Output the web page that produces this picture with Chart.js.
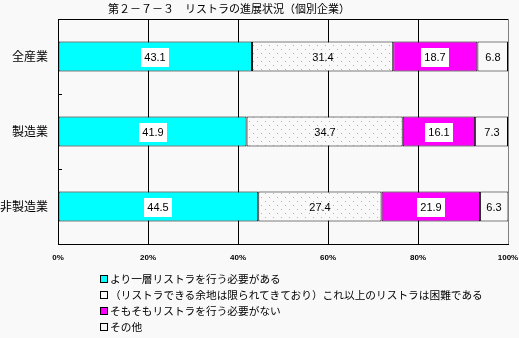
<!DOCTYPE html>
<html>
<head>
<meta charset="utf-8">
<script src="https://cdn.jsdelivr.net/npm/chart.js@4"></script>
<style>
  body { margin: 0; background: #f9f9f9; }
  #wrap { position: relative; width: 519px; height: 338px; overflow: hidden; }
  #chart { position: absolute; left: 0; top: 0; }
  #title {
    position: absolute; left: 108px; top: 0px;
    font: 11px "Noto Sans CJK JP", sans-serif; color: #000; white-space: nowrap;
  }
  #legend {
    position: absolute; left: 100px; top: 271px;
    font: 10.7px "Noto Sans CJK JP", sans-serif; color: #000;
    list-style: none; margin: 0; padding: 0;
  }
  #legend li { height: 16px; line-height: 16px; white-space: nowrap; }
  #legend span.box {
    display: inline-block; width: 6px; height: 6px; border: 1px solid #000;
    margin-right: 2px; vertical-align: 0px;
  }
</style>
</head>
<body>
<div id="wrap">
  <canvas id="chart" width="519" height="338"></canvas>
  <div id="title">第２－７－３　リストラの進展状況（個別企業）</div>
  <ul id="legend"></ul>
</div>
<script>
const categories = ["全産業", "製造業", "非製造業"]
const seriesNames = [
  "より一層リストラを行う必要がある",
  "（リストラできる余地は限られてきており）これ以上のリストラは困難である",
  "そもそもリストラを行う必要がない",
  "その他"
]
const moreRestructuring = [43.1, 41.9, 44.5]
const difficult = [31.4, 34.7, 27.4]
const notNeeded = [18.7, 16.1, 21.9]
const other = [6.8, 7.3, 6.3]
const xTickLabels = ["0%", "20%", "40%", "60%", "80%", "100%"]

const BG = "#f9f9f9"

// dotted fill for the second series
function dotPattern() {
  const c = document.createElement("canvas")
  c.width = 8
  c.height = 8
  const g = c.getContext("2d")
  g.fillStyle = BG
  g.fillRect(0, 0, 8, 8)
  g.fillStyle = "#e0b424"
  g.fillRect(1, 1, 1, 1)
  g.fillRect(5, 5, 1, 1)
  return document.getElementById("chart").getContext("2d").createPattern(c, "repeat")
}

const fills = ["#00ffff", dotPattern(), "#ff00ff", BG]
const legendSwatch = ["#00ffff", BG, "#ff00ff", BG]
const boxedLabel = [true, false, true, false]

// value labels centred in each segment
const valueLabels = {
  id: "valueLabels",
  afterDatasetsDraw(chart) {
    const ctx = chart.ctx
    ctx.save()
    ctx.font = "11px 'Liberation Sans', Arial, sans-serif"
    ctx.textAlign = "center"
    ctx.textBaseline = "middle"
    chart.data.datasets.forEach((ds, di) => {
      chart.getDatasetMeta(di).data.forEach((bar, i) => {
        const text = ds.data[i].toFixed(1)
        const cx = Math.round((bar.x + bar.base) / 2)
        const cy = Math.round(bar.y)
        if (boxedLabel[di]) {
          const w = Math.ceil(ctx.measureText(text).width) + 6
          ctx.fillStyle = "#ffffff"
          ctx.fillRect(cx - w / 2, cy - 9, w, 19)
        }
        ctx.fillStyle = "#000"
        ctx.fillText(text, cx, cy + 1)
      })
    })
    ctx.restore()
  }
}

// short inward ticks on the category axis between groups
const innerTicks = {
  id: "innerTicks",
  afterDraw(chart) {
    const y = chart.scales.y
    const ctx = chart.ctx
    ctx.save()
    ctx.strokeStyle = "#000"
    ctx.lineWidth = 1
    for (let i = 0; i < categories.length - 1; i++) {
      const py = Math.round((y.getPixelForValue(i) + y.getPixelForValue(i + 1)) / 2) + 0.5
      ctx.beginPath()
      ctx.moveTo(y.right, py)
      ctx.lineTo(y.right + 4, py)
      ctx.stroke()
    }
    ctx.restore()
  }
}

const datasetValues = [moreRestructuring, difficult, notNeeded, other]

new Chart(document.getElementById("chart"), {
  type: "bar",
  data: {
    labels: categories,
    datasets: datasetValues.map((vals, i) => ({
      label: seriesNames[i],
      data: vals,
      backgroundColor: fills[i],
      borderColor: "#000",
      borderWidth: 1,
      borderSkipped: false,
      barPercentage: 0.4,
      categoryPercentage: 1
    }))
  },
  options: {
    indexAxis: "y",
    responsive: false,
    animation: false,
    layout: { padding: { left: 0, top: 19, right: 11, bottom: 0 } },
    plugins: {
      legend: { display: false },
      tooltip: { enabled: false }
    },
    scales: {
      x: {
        stacked: true,
        min: 0,
        max: 100,
        ticks: {
          stepSize: 20,
          padding: 9,
          color: "#000",
          font: { family: "'Liberation Sans', sans-serif", size: 8, weight: "bold" },
          callback: (v) => xTickLabels[v / 20]
        },
        grid: {
          drawTicks: false,
          color: (c) => (c.tick && c.tick.value === 100 ? "#808080" : "#000")
        },
        border: { color: "#000" },
        afterFit: (s) => {
          s.height = 94
          s.paddingLeft = 0
          s.paddingRight = 0
        }
      },
      y: {
        stacked: true,
        ticks: {
          padding: 10,
          color: "#000",
          font: { family: "'Noto Sans CJK JP', sans-serif", size: 12 }
        },
        grid: {
          offset: true,
          drawTicks: false,
          color: (c) => (c.index === 0 || c.index === categories.length ? "#000" : "rgba(0,0,0,0)")
        },
        border: { color: "#000" },
        afterFit: (s) => { s.width = 58 }
      }
    }
  },
  plugins: [valueLabels, innerTicks]
})

const legend = document.getElementById("legend")
seriesNames.forEach((name, i) => {
  const li = document.createElement("li")
  const box = document.createElement("span")
  box.className = "box"
  box.style.background = legendSwatch[i]
  li.appendChild(box)
  li.appendChild(document.createTextNode(name))
  legend.appendChild(li)
})
</script>
</body>
</html>
